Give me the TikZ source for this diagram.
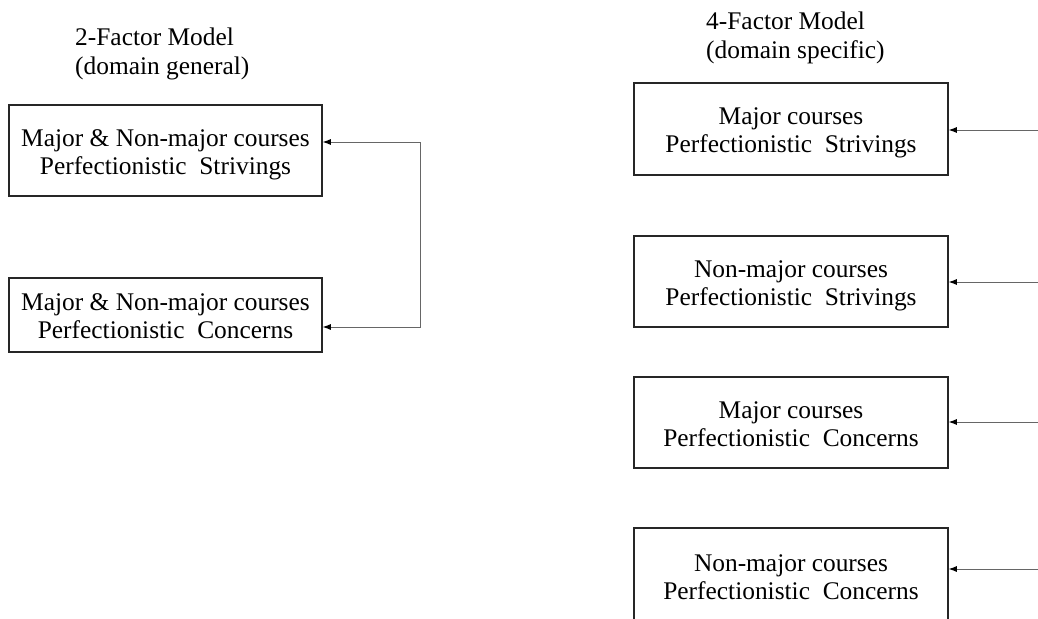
\documentclass[tikz,border=0pt]{standalone}
\usepackage{fontspec}
\setmainfont{Liberation Serif}
\usetikzlibrary{arrows.meta}
\newcommand{\twoln}[2]{\rule{0pt}{25pt}#1\\#2\rule[-6pt]{0pt}{6pt}}
\begin{document}
\begin{tikzpicture}[x=1pt,y=-1pt,
  every node/.style={font={\fontsize{25.4}{28}\selectfont}},
  boxnode/.style={draw=black!85,line width=1.5pt,inner sep=0pt,align=center,
    minimum width=313pt,minimum height=91pt},
  titlenode/.style={anchor=north west,inner sep=0pt,align=left,
    font={\fontsize{25.4}{29}\selectfont}},
  tip/.style={Latex[length=8pt,width=6pt,color=black]},
  arr/.style={draw=black!60,line width=0.9pt,-{Latex[length=8pt,width=6pt,color=black]}},
  darr/.style={draw=black!60,line width=0.9pt,{Latex[length=8pt,width=6pt,color=black]}-{Latex[length=8pt,width=6pt,color=black]}}]
\useasboundingbox (0,0) rectangle (1038,618);
\fill[white] (0,0) rectangle (1038,618);

% titles
\node[titlenode] (t2) at (75,25) {\rule{0pt}{20pt}2-Factor Model\\(domain general)};
\node[titlenode] (t4) at (706,9.5) {\rule{0pt}{20pt}4-Factor Model\\(domain specific)};

% left boxes
\node[boxnode] (l1) at (165.5,150.5) {\twoln{Major \& Non-major courses}{Perfectionistic~~Strivings}};
\node[boxnode,minimum height=74pt] (l2) at (165.5,315) {\twoln{Major \& Non-major courses}{Perfectionistic~~Concerns}};

% right boxes
\node[boxnode,minimum width=314pt,minimum height=92pt] (r1) at (791,129) {\twoln{Major courses}{Perfectionistic~~Strivings}};
\node[boxnode,minimum width=314pt] (r2) at (791,281.5) {\twoln{Non-major courses}{Perfectionistic~~Strivings}};
\node[boxnode,minimum width=314pt] (r3) at (791,422.5) {\twoln{Major courses}{Perfectionistic~~Concerns}};
\node[boxnode,minimum width=314pt,minimum height=96pt] (r4) at (791,576) {\twoln{Non-major courses}{Perfectionistic~~Concerns}};

% left correlation connector
\coordinate (j1) at (420,142);
\coordinate (j2) at (420,327);
\draw[darr] (l1.east |- j1) -- (j1) -- (j2) -- (l2.east |- j2);

% right incoming arrows
\coordinate (s1) at (1045,130);
\coordinate (s2) at (1045,282);
\coordinate (s3) at (1045,422);
\coordinate (s4) at (1045,569);
\draw[arr] (s1) -- (r1.east |- s1);
\draw[arr] (s2) -- (r2.east |- s2);
\draw[arr] (s3) -- (r3.east |- s3);
\draw[arr] (s4) -- (r4.east |- s4);
\end{tikzpicture}
\end{document}
